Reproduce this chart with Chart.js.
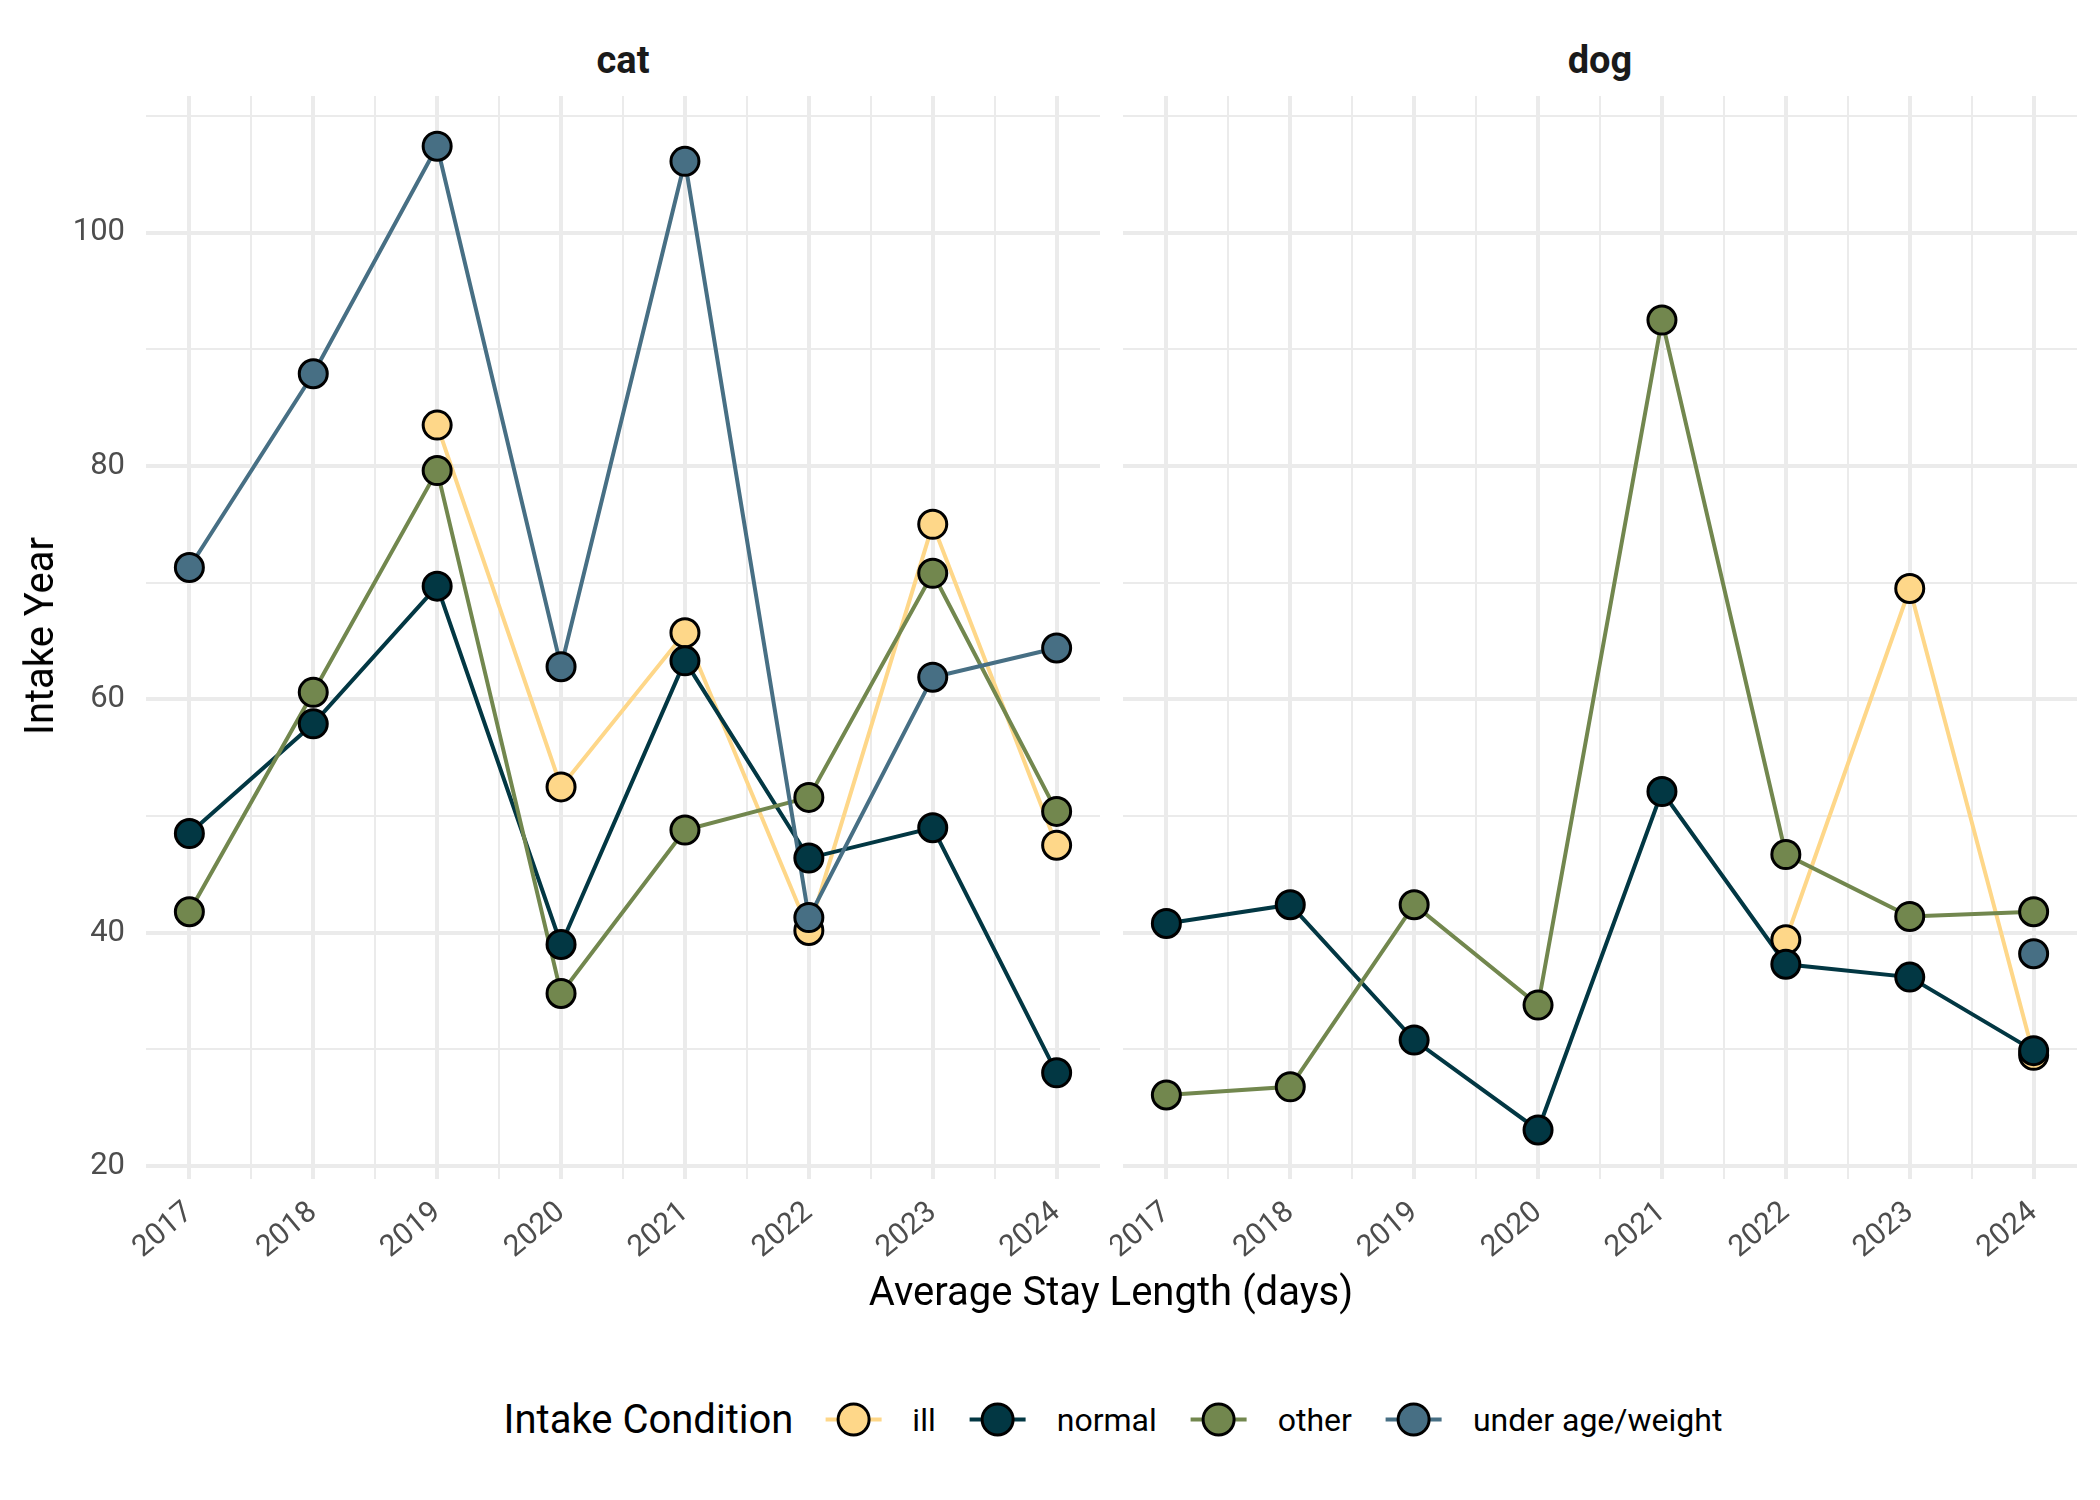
<!DOCTYPE html>
<html>
<head>
<meta charset="utf-8">
<script src="https://cdn.jsdelivr.net/npm/chart.js@4.4.0/dist/chart.umd.min.js"></script>
<style>
body { margin: 0; background: #fff; font-family: Roboto, sans-serif; }
#page { position: relative; width: 2100px; height: 1500px; overflow: hidden; }
.panel { position: absolute; top: 0; height: 1290px; }
.strip { position: absolute; top: 41px; font-size: 38px; line-height: 1; font-weight: bold; color: #1a1a1a; transform: translateX(-50%); white-space: nowrap; }
.axtitle { position: absolute; font-size: 40px; line-height: 1; color: #000; white-space: nowrap; }
#legend { position: absolute; left: 1113px; top: 1419px; transform: translate(-50%, -50%); display: flex; align-items: center; white-space: nowrap; }
#legend .ttl { font-size: 40px; margin-right: 32px; }
#legend .key { position: relative; width: 56px; height: 34px; }
#legend .key .ln { position: absolute; left: 0; right: 0; top: 15px; height: 4px; }
#legend .key .pt { position: absolute; left: 11px; top: 0; width: 28px; height: 28px; border: 3px solid #000; border-radius: 50%; box-sizing: content-box; }
#legend .lab { font-size: 32px; margin-left: 31px; margin-right: 34px; }
#legend .lab:last-child { margin-right: 0; }
</style>
</head>
<body>
<div id="page">
  <div class="strip" style="left:623px">cat</div>
  <div class="strip" style="left:1600px">dog</div>
  <div class="panel" style="left:0;width:1110px"><canvas id="catChart"></canvas></div>
  <div class="panel" style="left:1110px;width:990px"><canvas id="dogChart"></canvas></div>
  <div class="axtitle" style="left:40px;top:636px;transform:translate(-50%,-50%) rotate(-90deg)">Intake Year</div>
  <div class="axtitle" style="left:1111px;top:1292px;transform:translate(-50%,-50%)">Average Stay Length (days)</div>
  <div id="legend"></div>
</div>
<script>
// data
const years = [2017, 2018, 2019, 2020, 2021, 2022, 2023, 2024];
const conditions = ['ill', 'normal', 'other', 'under age/weight'];

const catIll    = [null, null, 83.5, 52.5, 65.7, 40.2, 75.0, 47.5];
const catNormal = [48.5, 57.9, 69.7, 39.0, 63.3, 46.4, 49.0, 28.0];
const catOther  = [41.8, 60.6, 79.6, 34.8, 48.8, 51.6, 70.8, 50.4];
const catUnder  = [71.3, 87.9, 107.4, 62.8, 106.1, 41.3, 61.9, 64.4];

const dogIll    = [null, null, null, null, null, 39.4, 69.5, 29.5];
const dogNormal = [40.8, 42.4, 30.8, 23.1, 52.1, 37.3, 36.2, 29.9];
const dogOther  = [26.1, 26.8, 42.4, 33.8, 92.5, 46.7, 41.4, 41.8];
const dogUnder  = [null, null, null, null, null, null, null, 38.2];

const colors = ['#FED789', '#023743', '#72874E', '#476F84'];

Chart.defaults.font.family = 'Roboto';
Chart.defaults.animation = false;

function toPoints(values) {
    return years.map((yr, i) => ({ x: yr, y: values[i] })).filter(p => p.y !== null);
}

// lines first, points on top (like ggplot)
function buildDatasets(seriesList) {
    const sets = [];
    seriesList.forEach((values, i) => {
        const pts = toPoints(values);
        sets.push({
            label: conditions[i] + ' line',
            data: pts,
            borderColor: colors[i],
            borderWidth: 4,
            pointRadius: 0,
            fill: false,
            tension: 0,
            order: 20 - i
        });
        sets.push({
            label: conditions[i],
            data: pts,
            showLine: false,
            pointRadius: 14,
            pointHoverRadius: 14,
            pointBackgroundColor: colors[i],
            pointBorderColor: '#000',
            pointBorderWidth: 3,
            order: 10 - i
        });
    });
    return sets;
}

function makeChart(id, seriesList, showY, pad) {
    const ctx = document.getElementById(id).getContext('2d');
    return new Chart(ctx, {
        type: 'line',
        data: { datasets: buildDatasets(seriesList) },
        options: {
            responsive: true,
            maintainAspectRatio: false,
            devicePixelRatio: 1,
            layout: { padding: pad, autoPadding: false },
            plugins: { legend: { display: false }, tooltip: { enabled: false } },
            scales: {
                x: {
                    type: 'linear',
                    min: 2016.65,
                    max: 2024.35,
                    afterFit: s => { s.height = 81; s.paddingLeft = 0; s.paddingRight = 0; },
                    border: { display: false },
                    grid: {
                        color: '#EBEBEB',
                        drawTicks: false,
                        lineWidth: c => Number.isInteger(c.tick.value) ? 4 : 2
                    },
                    ticks: {
                        stepSize: 0.5,
                        includeBounds: false,
                        autoSkip: false,
                        minRotation: 40,
                        maxRotation: 40,
                        padding: 16,
                        color: '#4D4D4D',
                        font: { size: 30 },
                        callback: v => Number.isInteger(v) ? String(v) : ''
                    }
                },
                y: {
                    min: 18.9,
                    max: 111.7,
                    afterFit: s => { s.width = showY ? 146 : 13; },
                    border: { display: false },
                    grid: {
                        color: '#EBEBEB',
                        drawTicks: false,
                        lineWidth: c => c.tick.value % 20 === 0 ? 4 : 2
                    },
                    ticks: {
                        display: showY,
                        stepSize: 10,
                        includeBounds: false,
                        autoSkip: false,
                        padding: 21,
                        color: '#4D4D4D',
                        font: { size: 31 },
                        callback: v => v % 20 === 0 ? String(v) : ''
                    }
                }
            }
        }
    });
}

const catChart = makeChart('catChart', [catIll, catNormal, catOther, catUnder], true,
    { top: 96, right: 10, left: 0, bottom: 30 });
const dogChart = makeChart('dogChart', [dogIll, dogNormal, dogOther, dogUnder], false,
    { top: 96, right: 23, left: 0, bottom: 30 });

// legend in the ggplot style: title on the left, keys in a row
const legend = document.getElementById('legend');
const ttl = document.createElement('span');
ttl.className = 'ttl';
ttl.textContent = 'Intake Condition';
legend.appendChild(ttl);
conditions.forEach((name, i) => {
    const key = document.createElement('span');
    key.className = 'key';
    key.innerHTML = '<span class="ln" style="background:' + colors[i] + '"></span>' +
        '<span class="pt" style="background:' + colors[i] + '"></span>';
    legend.appendChild(key);
    const lab = document.createElement('span');
    lab.className = 'lab';
    lab.textContent = name;
    legend.appendChild(lab);
});
</script>
</body>
</html>
